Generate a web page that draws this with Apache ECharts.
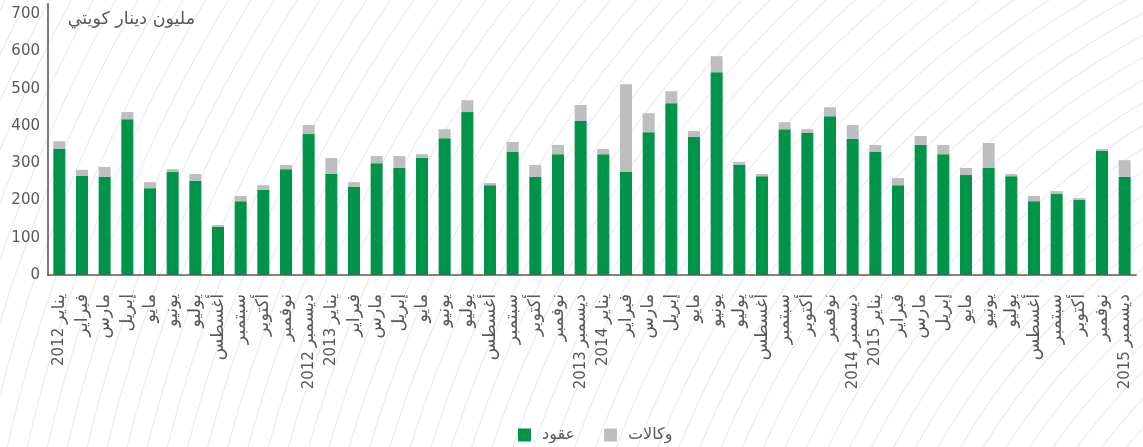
<!DOCTYPE html>
<html lang="ar">
<head>
<meta charset="utf-8">
<title>عقود ووكالات</title>
<script src="https://cdn.jsdelivr.net/npm/echarts@6/dist/echarts.min.js"></script>
<style>
  html, body { margin: 0; padding: 0; background: #ffffff; }
  #chart { width: 1143px; height: 447px; }
</style>
</head>
<body>
<div id="chart"></div>
<script>
// Monthly values, January 2012 – December 2015 (million KWD)
const months = ['يناير', 'فبراير', 'مارس', 'إبريل', 'مايو', 'يونيو', 'يوليو', 'أغسطس', 'سبتمبر', 'أكتوبر', 'نوفمبر', 'ديسمبر'];
const years = [2012, 2013, 2014, 2015];

const contracts = [
  338, 266, 263, 418, 233, 276, 252, 129, 198, 228, 284, 378,
  271, 236, 300, 287, 314, 367, 437, 241, 330, 263, 324, 413,
  324, 276, 383, 461, 370, 544, 295, 265, 391, 381, 426, 365,
  330, 241, 349, 324, 268, 287, 265, 198, 217, 201, 333, 263
];
const agencies = [
  21, 16, 27, 19, 16, 8, 19, 5, 14, 13, 11, 24,
  43, 13, 19, 32, 10, 24, 32, 6, 27, 32, 25, 43,
  14, 236, 51, 32, 16, 43, 8, 6, 19, 10, 24, 37,
  19, 19, 24, 25, 19, 67, 6, 14, 8, 5, 5, 45
];

const seriesNames = ['عقود', 'وكالات'];
const unitTitle = 'مليون دينار كويتي';
const yTicks = { min: 0, max: 727, interval: 100 };

// Category labels: January and December carry the year
const categories = [];
years.forEach(y => {
  months.forEach((m, i) => {
    categories.push((i === 0 || i === 11) ? m + ' ' + y : m);
  });
});

const FONT = "'DejaVu Sans', sans-serif";
const TEXT = '#595959';

// Rich-text runs are laid out left to right, so the year goes first
// and the (right-to-left) month name sits at the end next to the axis.
function monthLabel(value) {
  const parts = value.split(' ');
  if (parts.length === 2) return '{y|' + parts[1] + '} {m|' + parts[0] + '}';
  return '{m|' + value + '}';
}

// Faint concentric arcs in the background
const arcs = [];
for (let r = 520; r <= 1800; r += 19.5) {
  arcs.push({
    type: 'circle',
    silent: true,
    shape: { cx: 1560, cy: 800, r: r },
    style: { fill: 'none', stroke: '#ececec', lineWidth: 1.2 }
  });
}

const chart = echarts.init(document.getElementById('chart'), null, { renderer: 'canvas' });
chart.setOption({
  backgroundColor: '#ffffff',
  animation: false,
  textStyle: { fontFamily: FONT },
  graphic: [
    { type: 'group', z: -1, silent: true, children: arcs },
    {
      type: 'text',
      z: 5,
      x: 195,
      y: 19,
      style: {
        text: unitTitle,
        font: '17.5px ' + FONT,
        fill: TEXT,
        align: 'right',
        verticalAlign: 'middle'
      }
    }
  ],
  grid: { left: 48, right: 7, top: 4, bottom: 172, containLabel: false },
  legend: {
    data: seriesNames,
    left: 513,
    top: 422,
    itemWidth: 13,
    itemHeight: 13,
    itemGap: 29,
    icon: 'rect',
    textStyle: { fontFamily: FONT, fontSize: 16, color: TEXT, padding: [0, 0, 0, 6] }
  },
  xAxis: {
    type: 'category',
    data: categories,
    z: 3,
    axisLine: { show: true, lineStyle: { color: 'rgba(90,90,90,0.75)', width: 2 } },
    axisTick: { show: false },
    axisLabel: {
      interval: 0,
      rotate: 90,
      margin: 19,
      color: TEXT,
      formatter: monthLabel,
      rich: {
        m: { fontFamily: FONT, fontSize: 17.5, color: TEXT },
        y: { fontFamily: FONT, fontSize: 15, color: TEXT }
      }
    }
  },
  yAxis: {
    type: 'value',
    min: yTicks.min,
    max: yTicks.max,
    interval: yTicks.interval,
    axisLine: { show: true, lineStyle: { color: '#7a7a7a', width: 2 } },
    axisTick: { show: false },
    splitLine: { show: false },
    axisLabel: {
      showMaxLabel: false,
      margin: 8,
      fontFamily: FONT,
      fontSize: 15,
      color: TEXT
    }
  },
  series: [
    {
      name: seriesNames[0],
      type: 'bar',
      stack: 'total',
      barWidth: 12,
      data: contracts,
      itemStyle: { color: '#00934a' }
    },
    {
      name: seriesNames[1],
      type: 'bar',
      stack: 'total',
      barWidth: 12,
      data: agencies,
      itemStyle: { color: '#bcbec0' }
    }
  ]
});
</script>
</body>
</html>
